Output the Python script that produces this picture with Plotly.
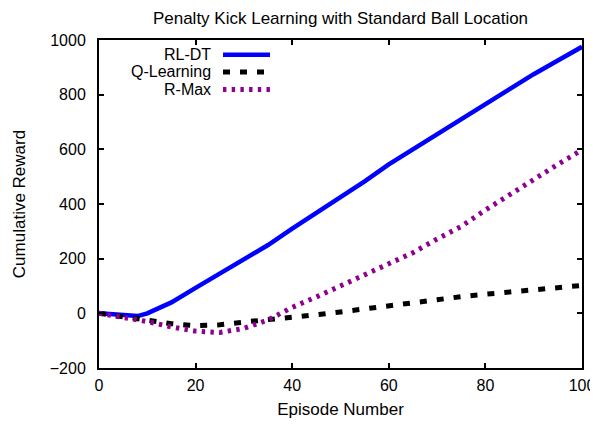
import plotly.graph_objects as go

episodes = [0, 5, 8, 10, 15, 20, 25, 30, 35, 40, 45, 50, 55, 60, 65, 70, 75, 80, 85, 90, 95, 100]
rl_dt = [0, -8, -10, 0, 40, 93, 145, 200, 250, 310, 368, 422, 483, 545, 600, 658, 710, 768, 820, 875, 925, 975]
q_learning = [0, -15, -20, -25, -38, -45, -42, -32, -24, -15, -5, 5, 17, 29, 40, 51, 61, 70, 78, 85, 92, 102]
r_max = [0, -15, -24, -30, -50, -65, -70, -55, -24, 22, 60, 100, 140, 180, 222, 272, 318, 378, 435, 490, 545, 598]

series_names = ["RL-DT", "Q-Learning", "R-Max"]
colors = ["#0000ff", "#000000", "#900090"]
widths = [4.5, 5, 5]
dashes = ["solid", "7px,10px", "3.4px,5.3px"]

FONT = "Liberation Sans, Arial, Helvetica, sans-serif"

# the page body has an 8px margin, so the figure is drawn 8px smaller and offset
OFF = 8
FIG_W, FIG_H = 598 - OFF, 424 - OFF

fig = go.Figure()
for name, ys, c, w, d in zip(series_names, [rl_dt, q_learning, r_max], colors, widths, dashes):
    fig.add_trace(go.Scatter(x=episodes, y=ys, mode="lines", name=name,
                             line=dict(color=c, width=w, dash=d), showlegend=False))

# custom gnuplot-like legend (text right-aligned, sample to the right); page pixel coords
W, H, L, T = 483.0, 328.0, 99.0, 40.0
def px2paper(x, y):
    return (x - L) / W, (T + H - y) / H

rows_y = [54.7, 72.0, 89.5]
for name, c, w, d, ry in zip(series_names, colors, widths, dashes, rows_y):
    tx, ty = px2paper(213, ry)
    fig.add_annotation(x=tx, y=ty, xref="paper", yref="paper", text=name,
                       showarrow=False, xanchor="right", yanchor="middle",
                       font=dict(family=FONT, size=16, color="#000"))
    x0, y0 = px2paper(223, ry)
    x1, _ = px2paper(270, ry)
    fig.add_shape(type="line", xref="paper", yref="paper", x0=x0, x1=x1, y0=y0, y1=y0,
                  line=dict(color=c, width=w, dash=d))

axis_common = dict(showgrid=False, zeroline=False, showline=True, linecolor="#000",
                   linewidth=2, mirror="ticks", ticks="inside", ticklen=5, tickwidth=1.5,
                   tickcolor="#000", automargin=False,
                   tickfont=dict(family=FONT, size=16, color="#000"))

fig.update_xaxes(range=[0, 100], tickvals=[0, 20, 40, 60, 80, 100], ticklabelstandoff=2,
                 title=dict(text="Episode Number", font=dict(family=FONT, size=17, color="#000"), standoff=10),
                 **axis_common)
fig.update_yaxes(range=[-200, 1000], tickvals=[-200, 0, 200, 400, 600, 800, 1000], ticklabelstandoff=8,
                 title=dict(text="Cumulative Reward", font=dict(family=FONT, size=17, color="#000"), standoff=20),
                 **axis_common)

fig.update_layout(
    width=FIG_W, height=FIG_H,
    margin=dict(l=99 - OFF, r=16, t=40 - OFF, b=56, autoexpand=False),
    paper_bgcolor="white", plot_bgcolor="white",
    title=dict(text="Penalty Kick Learning with Standard Ball Location",
               x=0.5, xref="paper", y=1 - (18 - OFF) / FIG_H, yref="container", yanchor="middle",
               font=dict(family=FONT, size=17, color="#000")),
)

fig.write_html("out.html")
